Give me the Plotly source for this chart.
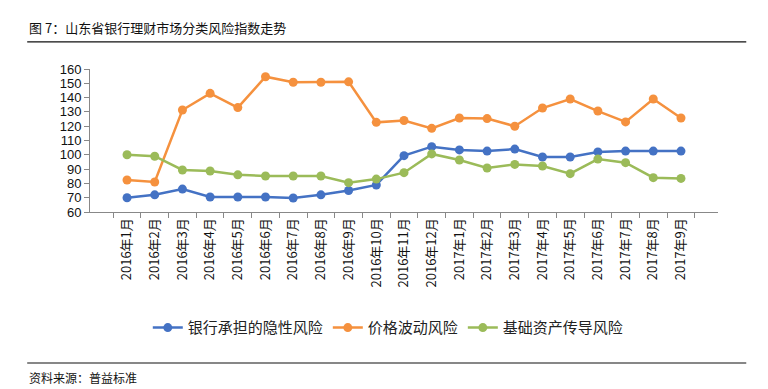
import plotly.graph_objects as go

months = ["2016年1月","2016年2月","2016年3月","2016年4月","2016年5月","2016年6月","2016年7月",
          "2016年8月","2016年9月","2016年10月","2016年11月","2016年12月","2017年1月","2017年2月",
          "2017年3月","2017年4月","2017年5月","2017年6月","2017年7月","2017年8月","2017年9月"]
bank_risk = [70, 72, 76, 70.5, 70.5, 70.5, 69.8, 72, 75, 78.9, 99.4, 105.7, 103.4, 102.6,
             104, 98.5, 98.5, 102, 102.6, 102.6, 102.6]
price_risk = [82.4, 81, 131.3, 143, 133, 154.6, 150.7, 150.7, 151, 122.7, 124, 118.5, 125.7,
              125.3, 120, 132.7, 139, 130.6, 123, 139, 125.7]
asset_risk = [100, 99, 89.4, 88.7, 86, 85.2, 85.2, 85.2, 80.5, 83, 87.5, 100.6, 96.4, 90.8,
              93.3, 92.2, 86.8, 97, 94.5, 84, 83.5]
names = ["银行承担的隐性风险", "价格波动风险", "基础资产传导风险"]
colors = ["#4472C4", "#F5913E", "#9BBB59"]
y_ticks = list(range(60, 161, 10))

CJK = "Noto Sans CJK SC, sans-serif"

fig = go.Figure()
for name, vals, c in zip(names, [bank_risk, price_risk, asset_risk], colors):
    fig.add_trace(go.Scatter(x=months, y=vals, name=name, mode="lines+markers",
                             line=dict(color=c, width=2.5),
                             marker=dict(color=c, size=9)))

fig.update_layout(
    width=760, height=381,
    margin=dict(l=82, r=50, t=61, b=177),
    paper_bgcolor="white", plot_bgcolor="white",
    showlegend=True,
    legend=dict(orientation="h", x=0.475, y=-0.81, xanchor="center", yanchor="middle",
                font=dict(family=CJK, size=15, color="#222"), itemwidth=30,
                tracegroupgap=0),
    font=dict(family=CJK, color="#222"),
)
fig.update_xaxes(type="category", showline=True, linecolor="#888", linewidth=1,
                 ticks="outside", tickson="boundaries", ticklen=5, tickcolor="#888",
                 tickangle=-90, tickfont=dict(family=CJK, size=13, color="#111"),
                 showgrid=False, zeroline=False)
fig.update_yaxes(range=[60, 160], tickvals=y_ticks, showline=True, linecolor="#888",
                 linewidth=1, ticks="outside", ticklen=5, tickcolor="#888",
                 tickfont=dict(family="Liberation Sans, Arial", size=13, color="#111"),
                 showgrid=False, zeroline=False)

fig.add_annotation(text="图 7：山东省银行理财市场分类风险指数走势", xref="paper", yref="paper",
                   x=-0.1, y=1.287, xanchor="left", yanchor="middle", showarrow=False,
                   font=dict(family=CJK, size=13, color="#111"))
fig.add_annotation(text="资料来源：普益标准", xref="paper", yref="paper",
                   x=-0.1, y=-1.154, xanchor="left", yanchor="middle", showarrow=False,
                   font=dict(family=CJK, size=12, color="#111"))
fig.add_shape(type="line", xref="paper", yref="paper", x0=-0.1, x1=1.045, y0=1.189, y1=1.189,
              line=dict(color="#111", width=1.2))
fig.add_shape(type="line", xref="paper", yref="paper", x0=-0.1, x1=1.045, y0=-1.056, y1=-1.056,
              line=dict(color="#111", width=1.2))

fig.write_html("out.html")
